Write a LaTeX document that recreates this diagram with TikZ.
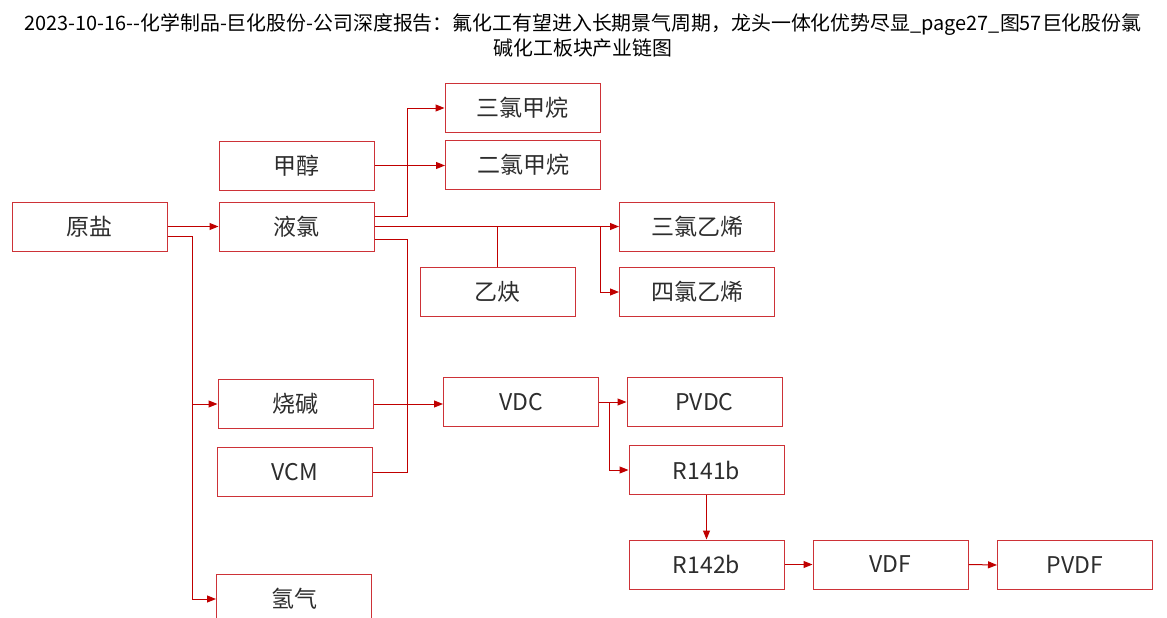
\documentclass[tikz,border=0pt]{standalone}
\usepackage{fontspec}
\newfontfamily\cjk{Noto Sans CJK SC}
\usetikzlibrary{arrows.meta}

\definecolor{linkred}{RGB}{192,0,0}
\definecolor{boxred}{RGB}{205,50,55}
\definecolor{labelgray}{RGB}{45,45,45}

\tikzset{
  box/.style={draw=boxred, line width=1pt, minimum width=155pt, minimum height=49pt,
    inner sep=0pt, text=labelgray, font=\cjk\fontsize{23}{23}\selectfont},
  line/.style={draw=linkred, line width=1pt},
  link/.style={line, -{Triangle[length=9pt,width=7pt]}}
}

\begin{document}
\begin{tikzpicture}[x=1pt, y=-1pt]
\useasboundingbox (0,0) rectangle (1167,618);

\node (title) [align=center, font=\cjk\fontsize{19.9}{25}\selectfont] at (583,35)
  {2023-10-16--化学制品-巨化股份-公司深度报告：氟化工有望进入长期景气周期，龙头一体化优势尽显\_page27\_图57巨化股份氯\\碱化工板块产业链图};

\node (yuanyan) [box] at (89.5,226.5) {原盐};
\node (jiachun) [box] at (296.5,165.5) {甲醇};
\node (yelv) [box] at (296.5,226.5) {液氯};
\node (shaojian) [box] at (295.5,404) {烧碱};
\node (vcm) [box] at (294.5,472) {VCM};
\node (qingqi) [box] at (294,599) {氢气};

\node (sanlvjiawan) [box] at (522.5,108) {三氯甲烷};
\node (erlvjiawan) [box] at (523,165) {二氯甲烷};
\node (yique) [box] at (497.5,292) {乙炔};
\node (sanlvyixi) [box] at (697,226.5) {三氯乙烯};
\node (silvyixi) [box] at (697,292) {四氯乙烯};

\node (vdc) [box] at (521,402) {VDC};
\node (pvdc) [box] at (704.5,402) {PVDC};
\node (r141b) [box] at (706.5,470) {R141b};
\node (r142b) [box] at (706.5,564.5) {R142b};
\node (vdf) [box] at (890.5,564.5) {VDF};
\node (pvdf) [box] at (1075,565) {PVDF};

% salt
\draw [link] (yuanyan.east) -- (yelv.west);
\draw [link] ([yshift=-10pt]yuanyan.east) -- ++(25,0) coordinate (saltturn) |- (qingqi.west);
\draw [link] (saltturn |- shaojian.west) -- (shaojian.west);

% chlorine
\draw [link] ([yshift=10pt]yelv.east) -- ++(33,0) coordinate (clturn) |- (sanlvjiawan.west);
\draw [link] (jiachun.east) -- (jiachun.east -| erlvjiawan.west);
\draw [link] (yelv.east) -- (yelv.east -| sanlvyixi.west);
\draw [line] (yique.north) -- (yique.north |- yelv.east);
\coordinate (tcebranch) at (600,226.5);
\draw [link] (tcebranch) |- (silvyixi.west);
\draw [line] ([yshift=-12.5pt]yelv.east) -| (clturn |- vcm.east) -- (vcm.east);

% VDC line
\draw [link] (shaojian.east) -- (shaojian.east -| vdc.west);
\draw [link] (vdc.east) -- (pvdc.west);
\draw [link] ([xshift=10pt]vdc.east) |- (r141b.west);
\draw [link] (r141b.south) -- (r142b.north);
\draw [link] (r142b.east) -- (vdf.west);
\draw [link] (vdf.east) -- (pvdf.west);
\end{tikzpicture}
\end{document}
